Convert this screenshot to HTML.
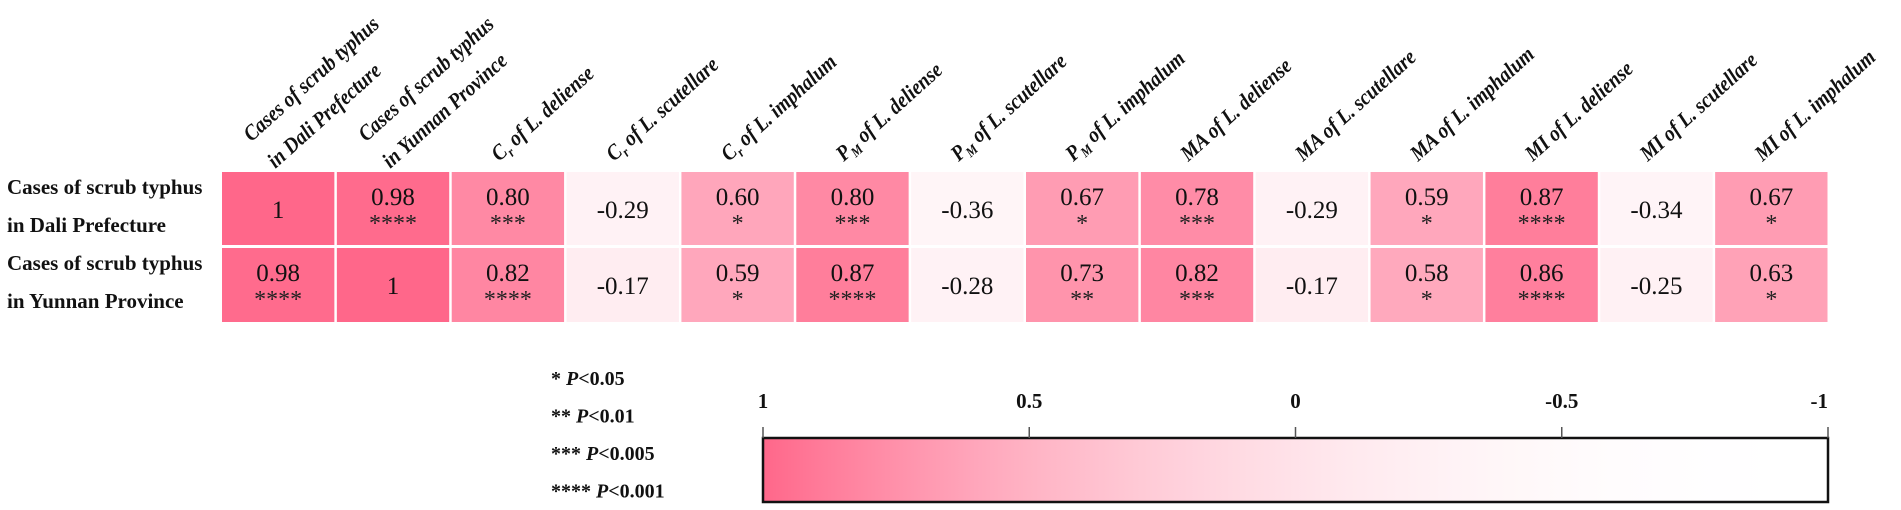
<!DOCTYPE html>
<html><head><meta charset="utf-8"><style>
html,body{margin:0;padding:0;background:#fff;}
svg{display:block;font-family:"Liberation Serif",serif;}
</style></head><body>
<svg id="chart" width="1901" height="510" viewBox="0 0 1901 510">
<g id="cells"></g>
<g id="headers"></g>
<g id="rowlabels"></g>
<g id="legend"></g>
<g id="cbar"></g>
</svg>
<script>
const rowLabels = [["Cases of scrub typhus","in Dali Prefecture"],["Cases of scrub typhus","in Yunnan Province"]];
const colLabels = [
 [["Cases of scrub typhus"],["in Dali Prefecture"]],
 [["Cases of scrub typhus"],["in Yunnan Province"]],
 [["C","r"," of L. deliense"]],[["C","r"," of L. scutellare"]],[["C","r"," of L. imphalum"]],
 [["P","M"," of L. deliense"]],[["P","M"," of L. scutellare"]],[["P","M"," of L. imphalum"]],
 [["MA of L. deliense"]],[["MA of L. scutellare"]],[["MA of L. imphalum"]],
 [["MI of L. deliense"]],[["MI of L. scutellare"]],[["MI of L. imphalum"]]
];
const valuesDali = [1,0.98,0.80,-0.29,0.60,0.80,-0.36,0.67,0.78,-0.29,0.59,0.87,-0.34,0.67];
const valuesYunnan = [0.98,1,0.82,-0.17,0.59,0.87,-0.28,0.73,0.82,-0.17,0.58,0.86,-0.25,0.63];
const starsDali = ["","****","***","","*","***","","*","***","","*","****","","*"];
const starsYunnan = ["****","","****","","*","****","","**","***","","*","****","","*"];
const printedDali = ["1","0.98","0.80","-0.29","0.60","0.80","-0.36","0.67","0.78","-0.29","0.59","0.87","-0.34","0.67"];
const printedYunnan = ["0.98","1","0.82","-0.17","0.59","0.87","-0.28","0.73","0.82","-0.17","0.58","0.86","-0.25","0.63"];
const cbarTicks = [1,0.5,0,-0.5,-1];
const cbarTickLabels = ["1","0.5","0","-0.5","-1"];
const legendItems = [["* ","P","<0.05"],["** ","P","<0.01"],["*** ","P","<0.005"],["**** ","P","<0.001"]];

const NS="http://www.w3.org/2000/svg";
function mk(tag,attrs,parent){const e=document.createElementNS(NS,tag);for(const k in attrs)e.setAttribute(k,attrs[k]);parent.appendChild(e);return e;}
function color(v){const t=(v+1)/2;const f=Math.pow(t,2.4);
 return `rgb(255,${Math.round(255-152*f)},${Math.round(255-117*f)})`;}
const X0=222, PITCH=(1830-222)/14, ROWY=[172,248], CH=[73,74];
const xPos=i=>X0+PITCH*i;
const rows=[[valuesDali,printedDali,starsDali],[valuesYunnan,printedYunnan,starsYunnan]];
const cells=document.getElementById('cells');
rows.forEach((r,ri)=>{
 r[0].forEach((v,ci)=>{
  const x=xPos(ci), y=ROWY[ri], w=PITCH-2.5, cx=x+w/2;
  const rect=mk('rect',{x:x,y:y,width:w,height:CH[ri],fill:color(v)},cells);
  
  
  const st=r[2][ci];
  const t=mk('text',{x:cx,y:st?y+33:y+46,'text-anchor':'middle','font-size':25,fill:'#111'},cells);
  t.textContent=r[1][ci];
  
  
  if(st){const s=mk('text',{x:cx,y:y+59,'text-anchor':'middle','font-size':24,fill:'#222'},cells);s.textContent=st;
   
   }
 });
});
// row labels
const rl=document.getElementById('rowlabels');
rowLabels.forEach((lines,ri)=>{lines.forEach((ln,li)=>{
 const t=mk('text',{x:7,y:ROWY[ri]+22+li*38,'font-size':21,'font-weight':'bold',fill:'#111'},rl);
 t.textContent=ln;
 
 
});});
// column headers
const hd=document.getElementById('headers');
colLabels.forEach((lines,ci)=>{
 const n=lines.length;
 const cx=xPos(ci)+PITCH/2-(n>1?4:10), by=n>1?169:162;
 const g=mk('g',{transform:`translate(${cx},${by}) rotate(-42) scale(0.88,1)`},hd);
 
 
 lines.forEach((parts,li)=>{
  const dy=-(n-1-li)*36;
  const t=mk('text',{x:0,y:dy,'font-size':22,'font-weight':'bold','font-style':'italic',fill:'#111'},g);
  if(parts.length===3){
   const a=mk('tspan',{},t);a.textContent=parts[0];
   const b=mk('tspan',{'font-size':14,dy:5},t);b.textContent=parts[1];
   const c=mk('tspan',{dy:-5},t);c.textContent=parts[2];
  } else t.textContent=parts[0];
 });
});
// legend
const lg=document.getElementById('legend');
legendItems.forEach((it,i)=>{
 const t=mk('text',{x:551,y:385+i*37.5,'font-size':20,'font-weight':'bold',fill:'#111'},lg);
 const a=mk('tspan',{},t);a.textContent=it[0];
 const b=mk('tspan',{'font-style':'italic'},t);b.textContent=it[1];
 const c=mk('tspan',{},t);c.textContent=it[2];
 
 
});
// colorbar
const cb=document.getElementById('cbar');
const CB0=763, CB1=1828, CBY=438, CBH=64;
const cbX=v=>CB0+(1-v)/2*(CB1-CB0);
const defs=mk('defs',{},cb);
const grad=mk('linearGradient',{id:'cg',x1:0,x2:1,y1:0,y2:0},defs);
for(let i=0;i<=20;i++){const v=1-i/10;mk('stop',{offset:(i/20),'stop-color':color(v)},grad);}
const bar=mk('rect',{x:CB0,y:CBY,width:CB1-CB0,height:CBH,fill:'url(#cg)',stroke:'#111','stroke-width':2.5},cb);


cbarTicks.forEach((v,i)=>{
 const x=cbX(v);
 mk('line',{x1:x,x2:x,y1:CBY-11,y2:CBY,stroke:'#555','stroke-width':1.5},cb);
 const t=mk('text',{x:x,y:408,'text-anchor':i===4?'end':'middle','font-size':21,'font-weight':'bold',fill:'#111'},cb);
 t.textContent=cbarTickLabels[i];
 
 
});
</script>
</body></html>
